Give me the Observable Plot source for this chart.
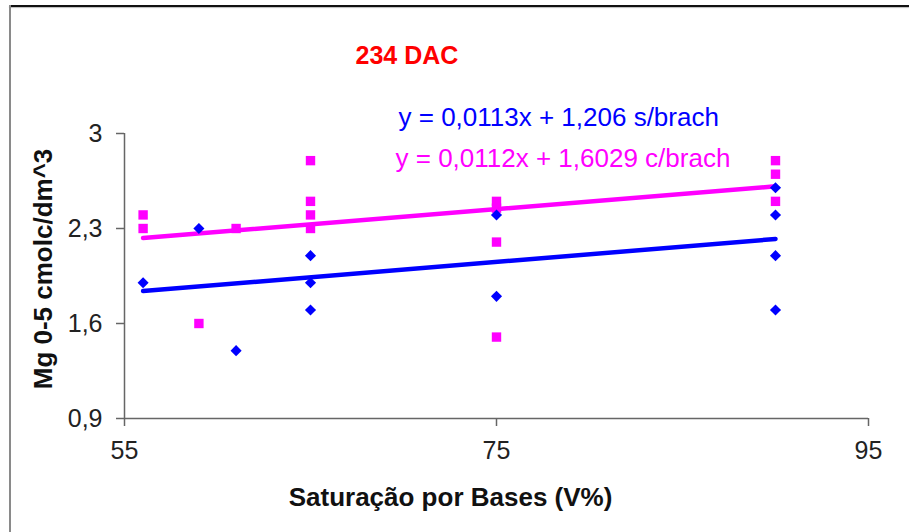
<!DOCTYPE html>
<html>
<head>
<meta charset="utf-8">
<script src="https://cdn.jsdelivr.net/npm/d3@7"></script>
<script src="https://cdn.jsdelivr.net/npm/@observablehq/plot@0.6"></script>
<style>
  html, body { margin: 0; padding: 0; background: #fff; }
  #wrap { position: relative; width: 909px; height: 532px; overflow: hidden; }
  #topline { position: absolute; left: 9px; top: 5px; width: 900px; height: 2px; background: #111; box-shadow: 0 1px 1px #bbb; }
  #leftline { position: absolute; left: 9px; top: 5px; width: 2px; height: 540px; background: #8a8a8a; }
</style>
</head>
<body>
<div id="wrap"><div id="chart"></div><div id="topline"></div><div id="leftline"></div></div>
<script>
// ---- data ----
const chartTitle = "234 DAC";
const xTitle = "Saturação por Bases (V%)";
const yTitle = "Mg 0-5 cmolc/dm^3";

const xTicks = [55, 75, 95];
const xTickLabels = ["55", "75", "95"];
const yTicks = [0.9, 1.6, 2.3, 3];
const yTickLabels = ["0,9", "1,6", "2,3", "3"];

// s/brach (blue diamonds)
const xSB = [56, 59, 61, 65, 65, 65, 75, 75, 90, 90, 90, 90];
const ySB = [1.9, 2.3, 1.4, 2.1, 1.9, 1.7, 2.4, 1.8, 2.6, 2.4, 2.1, 1.7];
// c/brach (magenta squares)
const xCB = [56, 56, 59, 61, 65, 65, 65, 65, 75, 75, 75, 75, 90, 90, 90];
const yCB = [2.4, 2.3, 1.6, 2.3, 2.8, 2.5, 2.4, 2.3, 2.5, 2.45, 2.2, 1.5, 2.8, 2.7, 2.5];

// trend lines as stated on the chart
const trendNames = ["s/brach", "c/brach"];
const trendSlopes = [0.0113, 0.0112];
const trendIntercepts = [1.206, 1.6029];
const trendLabels = ["y = 0,0113x + 1,206 s/brach", "y = 0,0112x + 1,6029 c/brach"];
const trendXRange = [56, 90];

// ---- build tables ----
const sb = xSB.map((x, i) => ({x, y: ySB[i]}));
const cb = xCB.map((x, i) => ({x, y: yCB[i]}));
const trend = (k) => trendXRange.map(x => ({x, y: trendSlopes[k] * x + trendIntercepts[k]}));

const BLUE = "#0000FF", PINK = "#FF00FF", AXIS = "#666";
const FONT = "Liberation Sans, Arial, sans-serif";

const chart = Plot.plot({
  width: 909,
  height: 532,
  marginLeft: 124,
  marginRight: 41,
  marginTop: 133,
  marginBottom: 114,
  x: {domain: [55, 95]},
  y: {domain: [0.9, 3]},
  style: {fontFamily: FONT, background: "white", color: "#222", overflow: "visible"},
  marks: [
    Plot.ruleY([0.9], {stroke: AXIS, strokeWidth: 1.5}),
    Plot.ruleX([55], {stroke: AXIS, strokeWidth: 1.5}),
    Plot.axisX({ticks: xTicks, tickFormat: d => xTickLabels[xTicks.indexOf(d)], tickSize: 8, tickPadding: 15,
      fontSize: 25, stroke: AXIS, strokeWidth: 1.5, fill: "#222", label: null}),
    Plot.axisY({ticks: yTicks, tickFormat: d => yTickLabels[yTicks.indexOf(d)], tickSize: 8, tickPadding: 14,
      fontSize: 25, stroke: AXIS, strokeWidth: 1.5, fill: "#222", label: null}),
    Plot.line(trend(0), {x: "x", y: "y", stroke: BLUE, strokeWidth: 4.5}),
    Plot.line(trend(1), {x: "x", y: "y", stroke: PINK, strokeWidth: 4.5}),
    Plot.dot(cb, {x: "x", y: "y", symbol: "square", r: 5.3, fill: PINK}),
    Plot.dot(sb, {x: "x", y: "y", symbol: "diamond2", r: 5, fill: BLUE}),
    Plot.text([chartTitle], {text: d => d, frameAnchor: "top-left", dx: 231, dy: -78, textAnchor: "start",
      lineAnchor: "middle", fontSize: 25, fontWeight: "bold", fill: "#FF0000"}),
    Plot.text([trendLabels[0]], {text: d => d, frameAnchor: "top-left", dx: 274, dy: -16, textAnchor: "start",
      lineAnchor: "middle", fontSize: 26, fill: BLUE}),
    Plot.text([trendLabels[1]], {text: d => d, frameAnchor: "top-left", dx: 271, dy: 25, textAnchor: "start",
      lineAnchor: "middle", fontSize: 26, fill: PINK}),
    Plot.text([yTitle], {text: d => d, frameAnchor: "left", dx: -81, dy: -7, rotate: -90, textAnchor: "middle",
      lineAnchor: "middle", fontSize: 26, fontWeight: "bold", fill: "#111"}),
    Plot.text([xTitle], {text: d => d, frameAnchor: "bottom", dx: -46, dy: 79, textAnchor: "middle",
      lineAnchor: "middle", fontSize: 26, fontWeight: "bold", fill: "#111"})
  ]
});
document.getElementById("chart").appendChild(chart);
</script>
</body>
</html>
